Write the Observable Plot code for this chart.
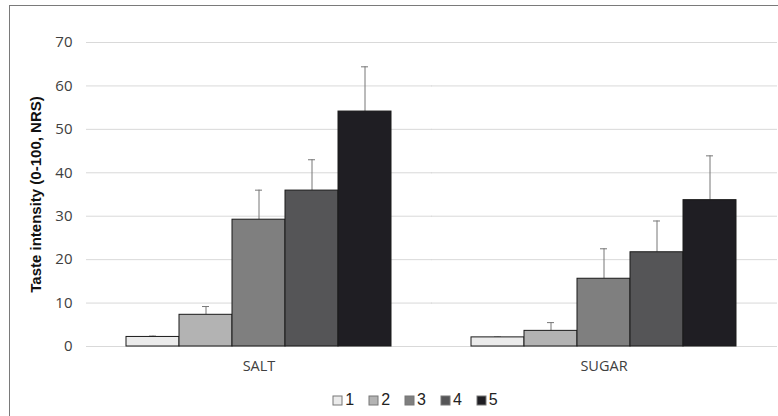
<!DOCTYPE html>
<html>
<head>
<meta charset="utf-8">
<script src="https://cdn.jsdelivr.net/npm/d3@7"></script>
<script src="https://cdn.jsdelivr.net/npm/@observablehq/plot@0.6"></script>
<style>
  html, body { margin: 0; padding: 0; background: #fff; }
  #frame { position: relative; width: 778px; height: 416px; overflow: hidden; background: #fff; }
  #border { position: absolute; left: 9px; top: 5px; width: 780px; height: 420px;
            border-left: 1.5px solid #7a7a7a; border-top: 1.5px solid #7a7a7a; box-sizing: border-box; }
  #chart { position: absolute; left: 0; top: 0; }
  #legend { position: absolute; left: 34px; top: 391px; width: 778px; display: flex; justify-content: center; }
  #legend > div, #legend [class*="swatches"] { display: flex; justify-content: center; margin: 0 !important; min-height: 0 !important; }
  #legend span[class*="swatch"] { font: 16px "Liberation Sans", Arial, sans-serif; color: #222; margin-right: 15px !important; display: inline-flex; align-items: center; }
  #legend svg { margin-right: 3px !important; }
  #legend svg rect { stroke: #777; stroke-width: 1; }
  #chart [aria-label="y-axis label"] text, #chart [aria-label="y-axis label"] { font-weight: bold; font-family: "Liberation Sans", Arial, sans-serif; font-size: 15px; fill: #111; }
</style>
</head>
<body>
<div id="frame">
  <div id="border"></div>
  <div id="chart"></div>
  <div id="legend"></div>
</div>
<script>
const categories = ["SALT", "SUGAR"];
const levels = ["1", "2", "3", "4", "5"];
const saltMeans = [2.2, 7.3, 29.2, 35.9, 54.1];
const saltUpper = [2.4, 9.2, 36.0, 43.0, 64.4];
const sugarMeans = [2.1, 3.6, 15.6, 21.7, 33.7];
const sugarUpper = [2.2, 5.5, 22.5, 28.9, 43.9];
const levelColors = ["#ebebeb", "#b3b3b3", "#7f7f7f", "#555557", "#1f1e23"];
const yTicks = [0, 10, 20, 30, 40, 50, 60, 70];

const means = {SALT: saltMeans, SUGAR: sugarMeans};
const uppers = {SALT: saltUpper, SUGAR: sugarUpper};
const data = categories.flatMap(c => levels.map((l, i) => ({category: c, level: l, value: means[c][i], upper: uppers[c][i]})));

const plot = Plot.plot({
  width: 778,
  height: 376,
  marginLeft: 86,
  marginRight: 2,
  marginTop: 42,
  marginBottom: 30,
  style: {fontFamily: "'Open Sans', sans-serif", fontSize: "13px", color: "#404040", background: "transparent"},
  fx: {domain: categories, paddingInner: 0.232, paddingOuter: 0.116, label: null},
  x: {domain: levels, padding: 0, axis: null},
  y: {domain: [0, 70], ticks: yTicks},
  color: {domain: levels, range: levelColors},
  marks: [
    Plot.ruleY(yTicks, {y: d => d, stroke: "#d9d9d9", strokeWidth: 1, insetLeft: -40, insetRight: -41}),
    Plot.axisY({ticks: yTicks, tickSize: 0, tickPadding: 54, label: "Taste intensity (0-100, NRS)", labelAnchor: "center", labelArrow: "none", labelOffset: 96, fontSize: 15}),
    Plot.axisFx({anchor: "bottom", tickSize: 0, tickPadding: 14, fontSize: 14.5, label: null}),
    Plot.ruleX(data, {fx: "category", x: "level", y1: "value", y2: "upper", stroke: "#777", strokeWidth: 1}),
    Plot.tickY(data, {fx: "category", x: "level", y: "upper", stroke: "#777", strokeWidth: 1, insetLeft: 23, insetRight: 23}),
    Plot.barY(data, {fx: "category", x: "level", y: "value", fill: "level", stroke: "#1a1a1a", strokeWidth: 1})
  ]
});
document.getElementById("chart").appendChild(plot);
const leg = plot.legend("color", {swatchSize: 9});
document.getElementById("legend").appendChild(leg);
</script>
</body>
</html>
